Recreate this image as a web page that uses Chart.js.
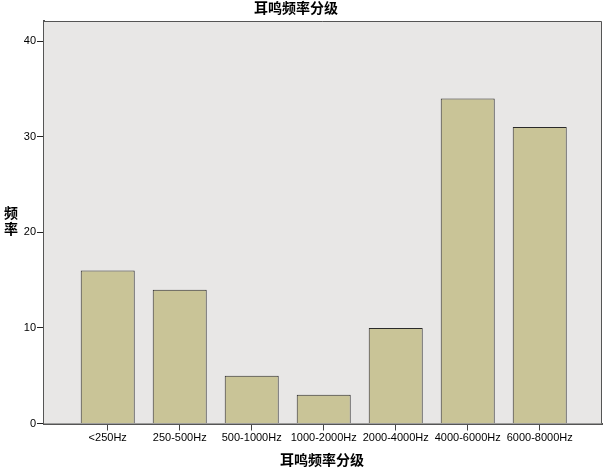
<!DOCTYPE html>
<html>
<head>
<meta charset="utf-8">
<script src="https://cdn.jsdelivr.net/npm/chart.js@4/dist/chart.umd.min.js"></script>
<style>
  html, body { margin: 0; padding: 0; background: #fff; }
  #wrap { width: 604px; height: 468px; position: relative; }
</style>
</head>
<body>
<div id="wrap"><canvas id="myBarChart" width="604" height="468"></canvas></div>
<script>
let categories = ['<250Hz', '250-500Hz', '500-1000Hz', '1000-2000Hz', '2000-4000Hz', '4000-6000Hz', '6000-8000Hz'];
let counts = [16, 14, 5, 3, 10, 34, 31];
let yTicks = [0, 10, 20, 30, 40];

let chartTitle = '耳鸣频率分级';
let xTitle = '耳鸣频率分级';
let yTitle = ['频', '率'];

let barColor = '#C9C497';
let plotBg = '#E8E7E6';

let points = counts.map((v, i) => ({ x: i, y: v }));

// grey plot background + frame, and the text titles
let framePlugin = {
    id: 'frame',
    beforeDatasetsDraw(chart) {
        let a = chart.chartArea;
        let c = chart.ctx;
        c.save();
        c.fillStyle = plotBg;
        c.fillRect(a.left, a.top, a.right - a.left, a.bottom - a.top);
        c.restore();
    },
    afterDraw(chart) {
        let a = chart.chartArea;
        let c = chart.ctx;
        c.save();
        c.strokeStyle = '#555';
        c.lineWidth = 1;
        c.beginPath();
        c.moveTo(a.left, a.top + 0.5);
        c.lineTo(a.right - 0.5, a.top + 0.5);
        c.lineTo(a.right - 0.5, a.bottom);
        c.stroke();

        c.fillStyle = '#000';
        c.font = 'bold 14px "Noto Sans CJK SC"';
        c.textAlign = 'center';
        c.textBaseline = 'middle';
        c.fillText(chartTitle, 296, 8);
        c.fillText(xTitle, 322, 460);
        c.fillText(yTitle[0], 11, 213);
        c.fillText(yTitle[1], 11, 229);
        c.restore();
    }
};

let ctx = document.getElementById('myBarChart').getContext('2d');
let myBarChart = new Chart(ctx, {
    type: 'bar',
    data: {
        datasets: [{
            data: points,
            backgroundColor: barColor,
            borderColor: '#2a2a2a',
            borderWidth: 1,
            barPercentage: 0.75,
            categoryPercentage: 1
        }]
    },
    options: {
        responsive: false,
        animation: false,
        layout: { padding: { top: 21, right: 2, left: 0, bottom: 0 } },
        plugins: {
            legend: { display: false },
            tooltip: { enabled: false }
        },
        scales: {
            x: {
                type: 'linear',
                offset: false,
                min: -0.885,
                max: 6.865,
                afterBuildTicks: (scale) => {
                    scale.ticks = categories.map((c, i) => ({ value: i }));
                },
                afterFit: (scale) => { scale.height = 44.5; },
                ticks: {
                    autoSkip: false,
                    maxRotation: 0,
                    padding: 1,
                    color: '#000',
                    font: { family: '"Liberation Sans", Arial', size: 11 },
                    callback: (v) => categories[v]
                },
                grid: {
                    display: true,
                    offset: false,
                    drawOnChartArea: false,
                    drawTicks: true,
                    tickLength: 7,
                    color: '#444'
                },
                border: { display: true, color: '#555', width: 2 }
            },
            y: {
                type: 'linear',
                min: 0,
                max: 42.1,
                afterBuildTicks: (scale) => {
                    scale.ticks = yTicks.map(v => ({ value: v }));
                },
                afterFit: (scale) => { scale.width = 44; },
                ticks: {
                    padding: 1,
                    color: '#000',
                    font: { family: '"Liberation Sans", Arial', size: 11 }
                },
                grid: {
                    display: true,
                    drawOnChartArea: false,
                    drawTicks: true,
                    tickLength: 7,
                    color: '#222'
                },
                border: { display: true, color: '#555', width: 2 }
            }
        }
    },
    plugins: [framePlugin]
});
</script>
</body>
</html>
